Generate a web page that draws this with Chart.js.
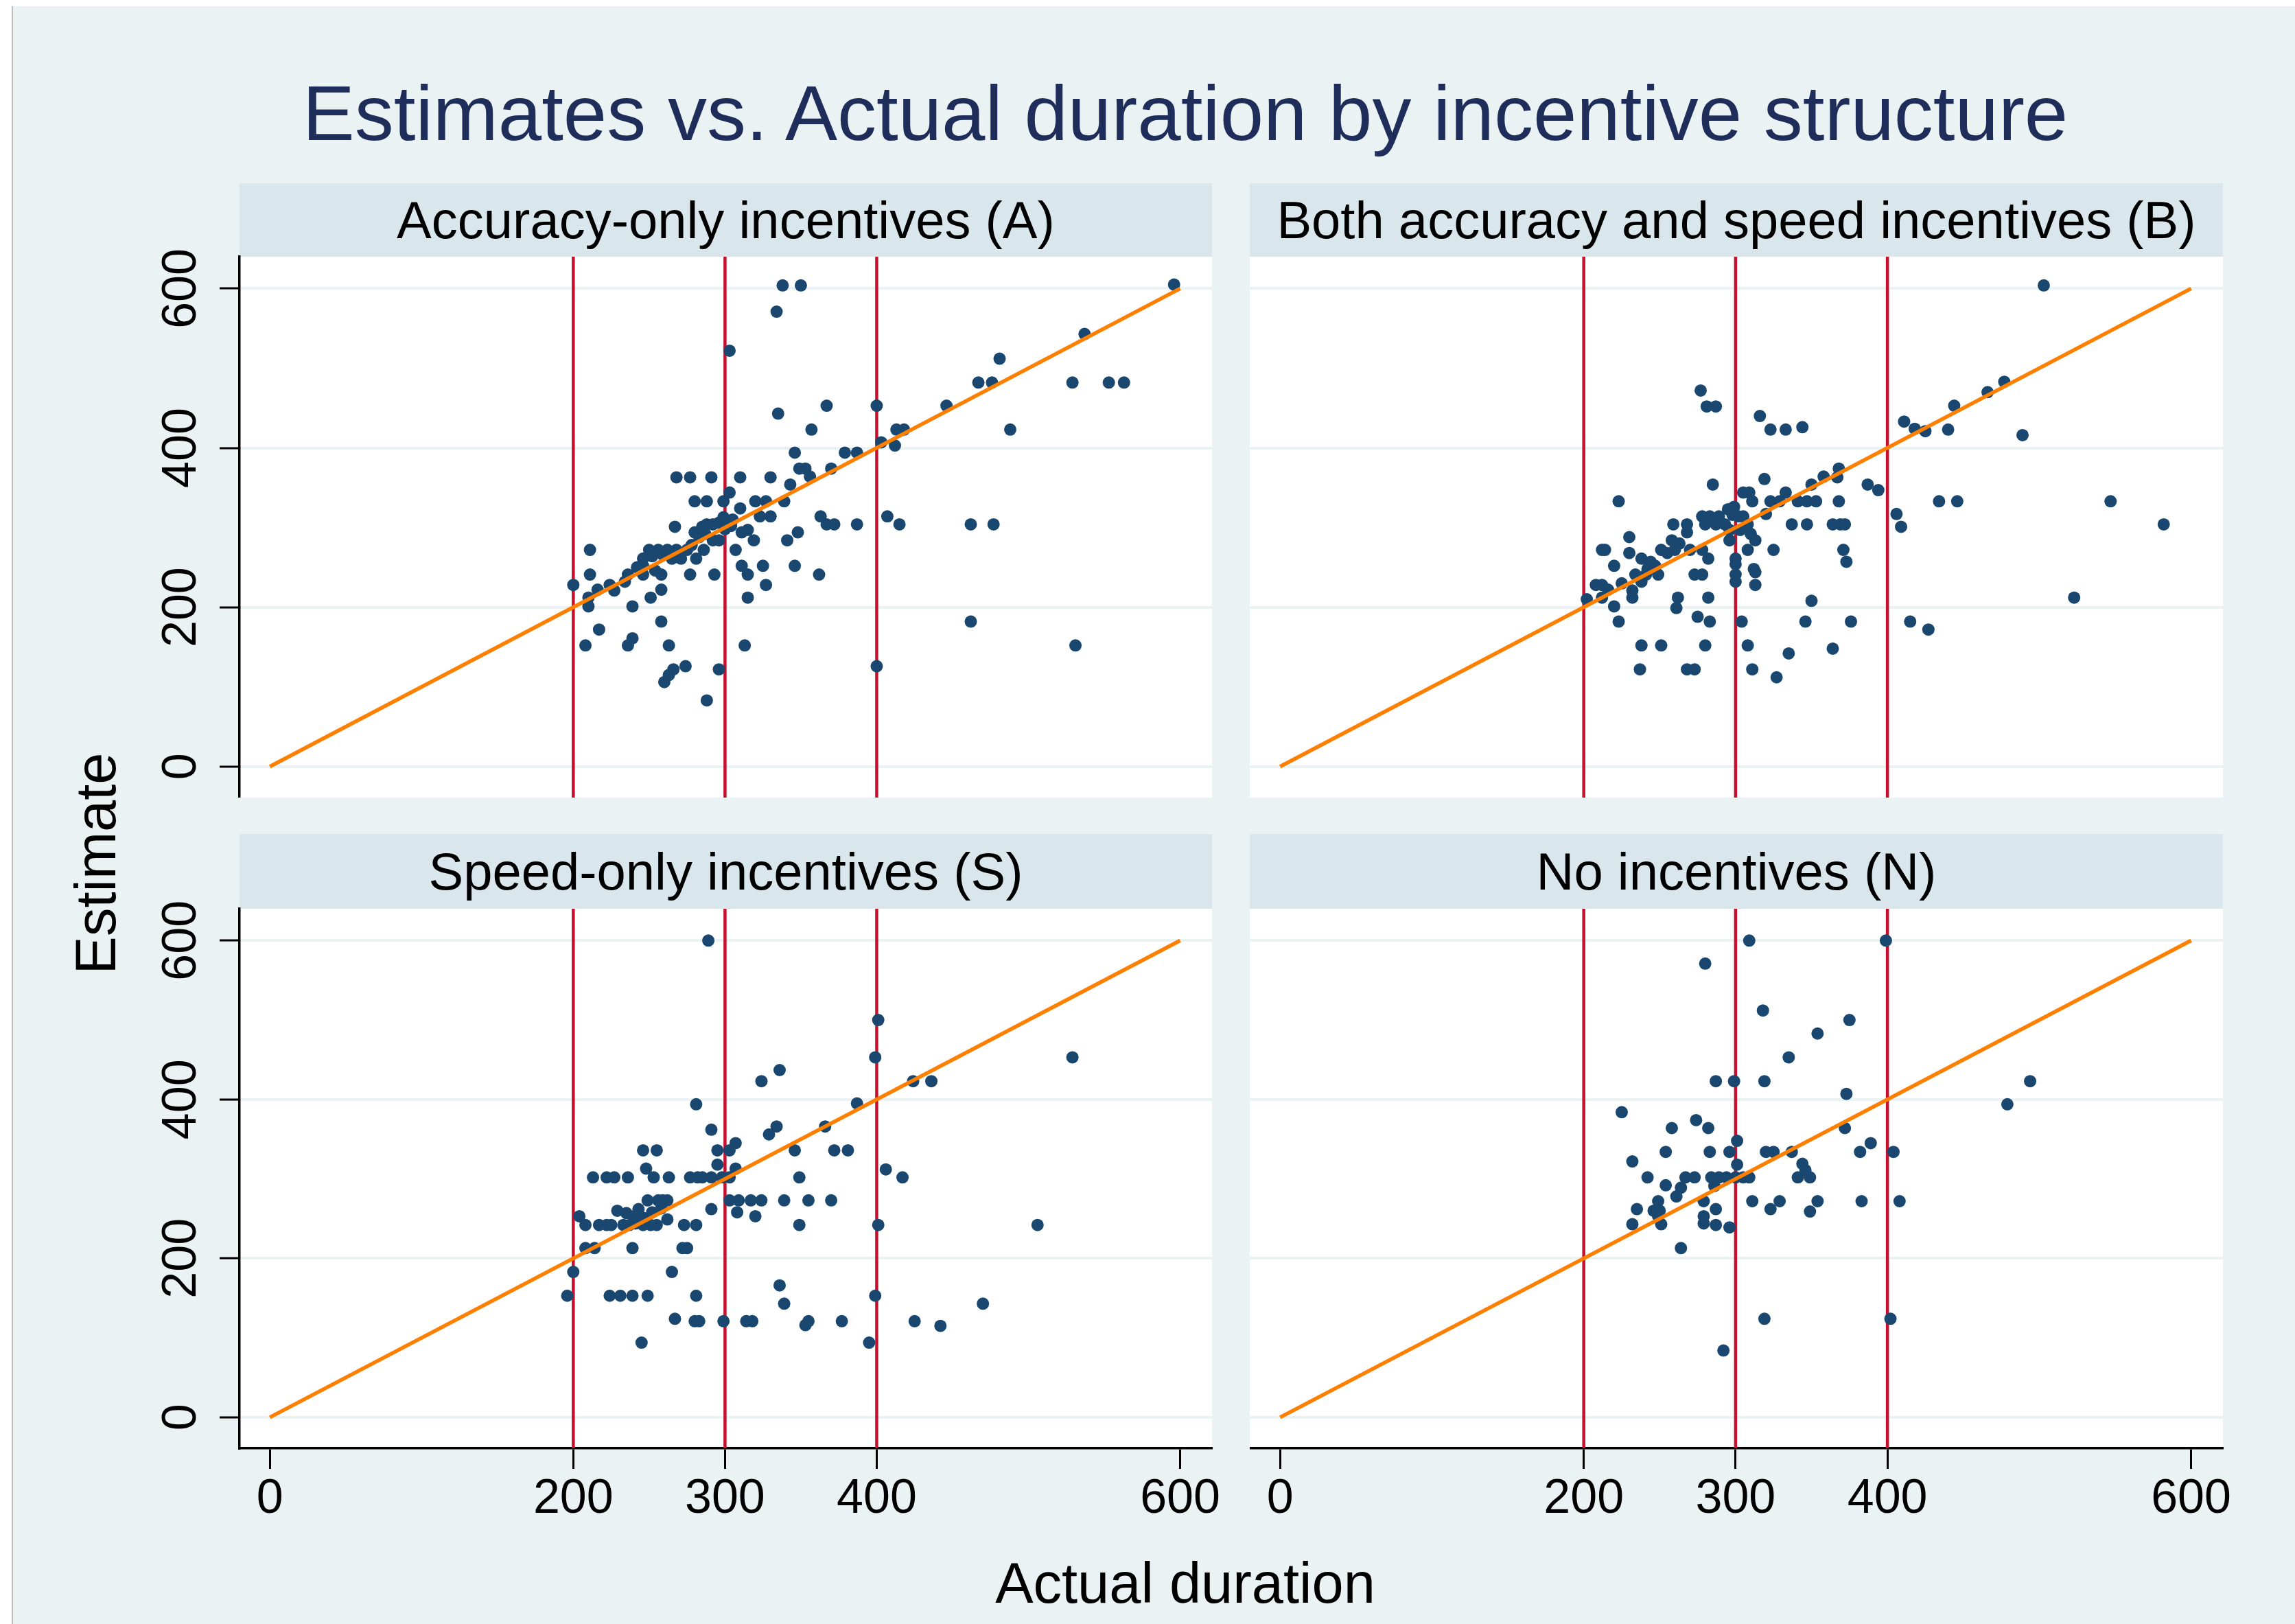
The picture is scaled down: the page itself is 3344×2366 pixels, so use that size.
<!DOCTYPE html>
<html>
<head>
<meta charset="utf-8">
<script src="https://cdn.jsdelivr.net/npm/chart.js@4.4.1/dist/chart.umd.min.js"></script>
<style>
  body { margin: 0; width: 3344px; height: 2366px; background: #fff; overflow: hidden;
         font-family: "Liberation Sans", Arial, sans-serif; position: relative; }
  #frame { position: absolute; left: 17px; top: 9px; right: 0; bottom: 0;
           background: #eaf2f3; border-left: 2px solid #bcbfc0; }
  .txt { position: absolute; white-space: nowrap; line-height: 1; }
  .strip { position: absolute; background: #d9e6eb; color: #000; font-size: 76px;
           display: flex; align-items: center; justify-content: center; white-space: nowrap; }
  canvas { position: absolute; }
</style>
</head>
<body>
<div id="frame"></div>
<div class="txt" style="left:1727px;top:108px;transform:translateX(-50%);font-size:114px;color:#1e2d5a">Estimates vs. Actual duration by incentive structure</div>
<div class="strip" style="left:349px;top:267px;width:1417px;height:107px">Accuracy-only incentives (A)</div>
<div class="strip" style="left:1821px;top:267px;width:1418px;height:107px">Both accuracy and speed incentives (B)</div>
<div class="strip" style="left:349px;top:1215px;width:1417px;height:109px">Speed-only incentives (S)</div>
<div class="strip" style="left:1821px;top:1215px;width:1418px;height:109px">No incentives (N)</div>
<div class="txt" style="left:139px;top:1258px;transform:translate(-50%,-50%) rotate(-90deg);font-size:83px;color:#000">Estimate</div>
<div class="txt" style="left:1727px;top:2265px;transform:translateX(-50%);font-size:83px;color:#000">Actual duration</div>

<canvas id="cA" width="1677" height="818" style="left:149px;top:344px"></canvas>
<canvas id="cB" width="1478" height="818" style="left:1821px;top:344px"></canvas>
<canvas id="cS" width="1677" height="926" style="left:149px;top:1294px"></canvas>
<canvas id="cN" width="1478" height="926" style="left:1821px;top:1294px"></canvas>

<script>
// axis setup
const xRange = [-20, 621];
const yRange = [-39, 640];
const xTickValues = [0, 200, 300, 400, 600];
const yTickValues = [0, 200, 400, 600];
const cutoffs = [200, 300, 400];
const diagonal = [0, 600];

// Accuracy-only incentives (A)
const accuracyX = [
  338,350,334,303,335,367,400,357,346,379,
  387,403,413,418,412,349,353,356,370,268,
  277,291,310,330,343,303,280,288,299,320,
  327,339,310,299,323,330,363,367,372,387,
  407,415,462,477,267,280,285,288,292,296,
  299,296,292,287,311,315,319,341,348,307,
  250,256,262,268,275,286,246,265,271,281,
  246,254,258,246,236,277,293,311,325,346,
  315,362,211,211,200,216,224,227,234,210,
  210,239,251,258,327,315,258,217,208,236,
  239,263,313,274,266,263,260,296,288,400,
  596,537,481,467,476,446,529,553,563,488,
  462,531,252,259,300,304,283,242,278,305
];
const accuracyY = [
  604,604,571,522,443,453,453,423,394,394,
  394,407,423,423,403,374,374,364,374,363,
  363,363,363,363,354,344,333,333,333,333,
  333,333,324,313,314,314,314,304,304,304,
  314,304,304,304,301,294,301,304,304,306,
  310,284,284,292,294,297,284,284,294,272,
  272,272,272,272,272,272,261,261,261,261,
  252,246,241,241,241,241,241,252,252,252,
  241,241,272,241,228,222,228,221,232,212,
  201,201,212,222,228,212,182,172,152,152,
  161,152,152,126,122,115,106,122,83,126,
  605,543,512,482,482,453,482,482,482,423,
  182,152,264,266,298,302,288,250,278,310
];

// Both accuracy and speed incentives (B)
const bothX = [
  277,281,287,316,323,333,344,411,418,425,
  440,444,466,477,503,489,434,446,547,582,
  415,427,523,368,358,350,367,319,285,387,
  394,223,305,309,311,323,329,333,341,347,
  353,368,406,409,320,278,283,289,295,298,
  302,305,280,287,293,296,303,299,308,310,
  259,268,268,337,347,364,369,372,230,258,
  296,313,212,214,230,251,260,270,278,308,
  325,371,373,282,238,244,247,220,300,300,
  300,300,312,313,313,234,241,249,273,278,
  208,212,216,225,238,202,212,220,232,232,
  262,261,282,350,223,275,283,304,346,376,
  238,251,280,308,364,335,237,268,273,311,
  327,255,263,242
];
const bothY = [
  472,452,452,440,423,423,426,433,424,421,
  423,453,470,483,604,416,333,333,333,304,
  182,172,212,374,364,354,363,361,354,354,
  347,333,344,344,333,333,333,344,333,333,
  333,333,317,301,317,314,314,314,323,316,
  314,314,304,304,304,297,297,326,304,292,
  304,304,294,304,304,304,304,304,288,284,
  284,284,272,272,268,272,272,272,272,272,
  272,272,257,261,261,257,252,252,261,254,
  241,232,248,244,228,241,241,241,241,241,
  228,228,222,230,232,210,212,201,221,212,
  212,199,212,208,182,188,182,182,182,182,
  152,152,152,152,148,142,122,122,122,122,
  112,268,280,248
];

// Speed-only incentives (S)
const speedX = [
  289,401,399,336,324,281,387,366,334,329,
  291,307,246,255,295,303,346,372,381,295,
  307,248,253,213,222,227,236,263,277,282,
  285,291,298,303,349,406,417,249,256,259,
  262,303,309,317,324,339,355,370,308,320,
  291,229,235,243,240,204,208,217,222,225,
  233,237,241,246,251,255,262,273,281,349,
  401,208,214,239,272,275,200,265,196,224,
  231,239,249,281,336,339,399,267,280,283,
  299,314,318,353,355,377,425,245,395,424,
  436,529,506,470,442,246,252,258
];
const speedY = [
  600,500,453,437,423,394,395,366,366,356,
  362,345,336,336,336,336,336,336,336,318,
  313,313,302,302,302,302,302,302,302,302,
  302,302,302,302,302,312,302,273,273,273,
  273,273,273,273,273,273,273,273,258,253,
  262,260,257,262,253,253,242,242,242,242,
  242,242,244,242,242,242,249,242,242,242,
  242,213,213,213,213,213,183,183,153,153,
  153,153,153,153,166,143,153,124,121,121,
  121,121,121,116,121,121,121,94,94,423,
  423,453,242,143,115,251,258,263
];

// No incentives (N)
const noneX = [
  309,399,280,318,375,354,335,287,299,319,
  373,225,274,258,282,372,301,389,382,404,
  232,254,283,296,320,325,337,301,344,242,
  267,273,284,289,294,300,305,309,341,349,
  346,254,264,261,286,249,279,311,329,323,
  354,383,408,235,246,250,249,287,279,279,
  349,232,251,287,296,264,319,402,292,494,
  479
];
const noneY = [
  600,600,571,512,500,483,453,423,423,423,
  407,384,374,364,364,364,348,345,334,334,
  322,334,334,334,334,334,334,318,319,302,
  302,302,302,302,302,302,302,302,302,302,
  311,292,289,278,291,272,272,272,272,262,
  272,272,272,262,260,260,253,262,253,244,
  259,243,243,242,239,213,124,124,84,423,
  394
];

Chart.defaults.font.family = '"Liberation Sans", Arial, sans-serif';

// white plot region
const plotBg = {
  id: "plotBg",
  beforeDraw(chart) {
    const a = chart.chartArea;
    const ctx = chart.ctx;
    ctx.save();
    ctx.fillStyle = "#ffffff";
    ctx.fillRect(a.left, a.top, a.right - a.left, a.bottom - a.top);
    ctx.restore();
  }
};

function makeChart(id, xs, ys, leftAxis, bottomAxis) {
  const pts = xs.map((x, i) => ({ x: x, y: ys[i] }));
  const datasets = [
    {
      data: diagonal.map(v => ({ x: v, y: v })),
      showLine: true, borderColor: "#ff7f00", borderWidth: 5.5,
      pointRadius: 0, order: 0
    },
    {
      data: pts, pointRadius: 9, pointBackgroundColor: "#1a476f",
      pointBorderWidth: 0, order: 1
    }
  ];
  cutoffs.forEach(c => {
    datasets.push({
      data: [{ x: c, y: yRange[0] }, { x: c, y: yRange[1] }],
      showLine: true, borderColor: "#c8102e", borderWidth: 4.5,
      pointRadius: 0, order: 2
    });
  });

  new Chart(document.getElementById(id), {
    type: "scatter",
    data: { datasets: datasets },
    options: {
      responsive: false,
      animation: false,
      events: [],
      devicePixelRatio: 1,
      layout: { autoPadding: false, padding: { top: 30, right: 60, left: 0, bottom: 0 } },
      plugins: { legend: { display: false }, tooltip: { enabled: false } },
      scales: {
        x: {
          type: "linear", min: xRange[0], max: xRange[1], display: bottomAxis,
          afterBuildTicks: s => { s.ticks = xTickValues.map(v => ({ value: v })); },
          afterFit: s => { s.height = bottomAxis ? 110 : 0; s.paddingLeft = 0; s.paddingRight = 0; },
          grid: { drawOnChartArea: false, tickColor: "#000", tickLength: 30, tickWidth: 3 },
          border: { display: true, color: "#000", width: 3.5 },
          ticks: { font: { size: 70 }, color: "#000", padding: 3, maxRotation: 0, autoSkip: false }
        },
        y: {
          type: "linear", min: yRange[0], max: yRange[1], display: true,
          afterBuildTicks: s => { s.ticks = yTickValues.map(v => ({ value: v })); },
          afterFit: s => { s.width = leftAxis ? 200 : 0; s.paddingTop = 0; s.paddingBottom = 0; },
          grid: { color: "#eaf2f3", lineWidth: 4, drawTicks: leftAxis,
                  tickColor: "#000", tickLength: 29, tickWidth: 3 },
          border: { display: leftAxis, color: "#000", width: 3.5 },
          ticks: { display: leftAxis, font: { size: 70 }, color: "#000",
                   minRotation: 90, maxRotation: 90, crossAlign: "center", padding: -4 }
        }
      }
    },
    plugins: [plotBg]
  });
}

makeChart("cA", accuracyX, accuracyY, true, false);
makeChart("cB", bothX, bothY, false, false);
makeChart("cS", speedX, speedY, true, true);
makeChart("cN", noneX, noneY, false, true);
</script>
</body>
</html>
